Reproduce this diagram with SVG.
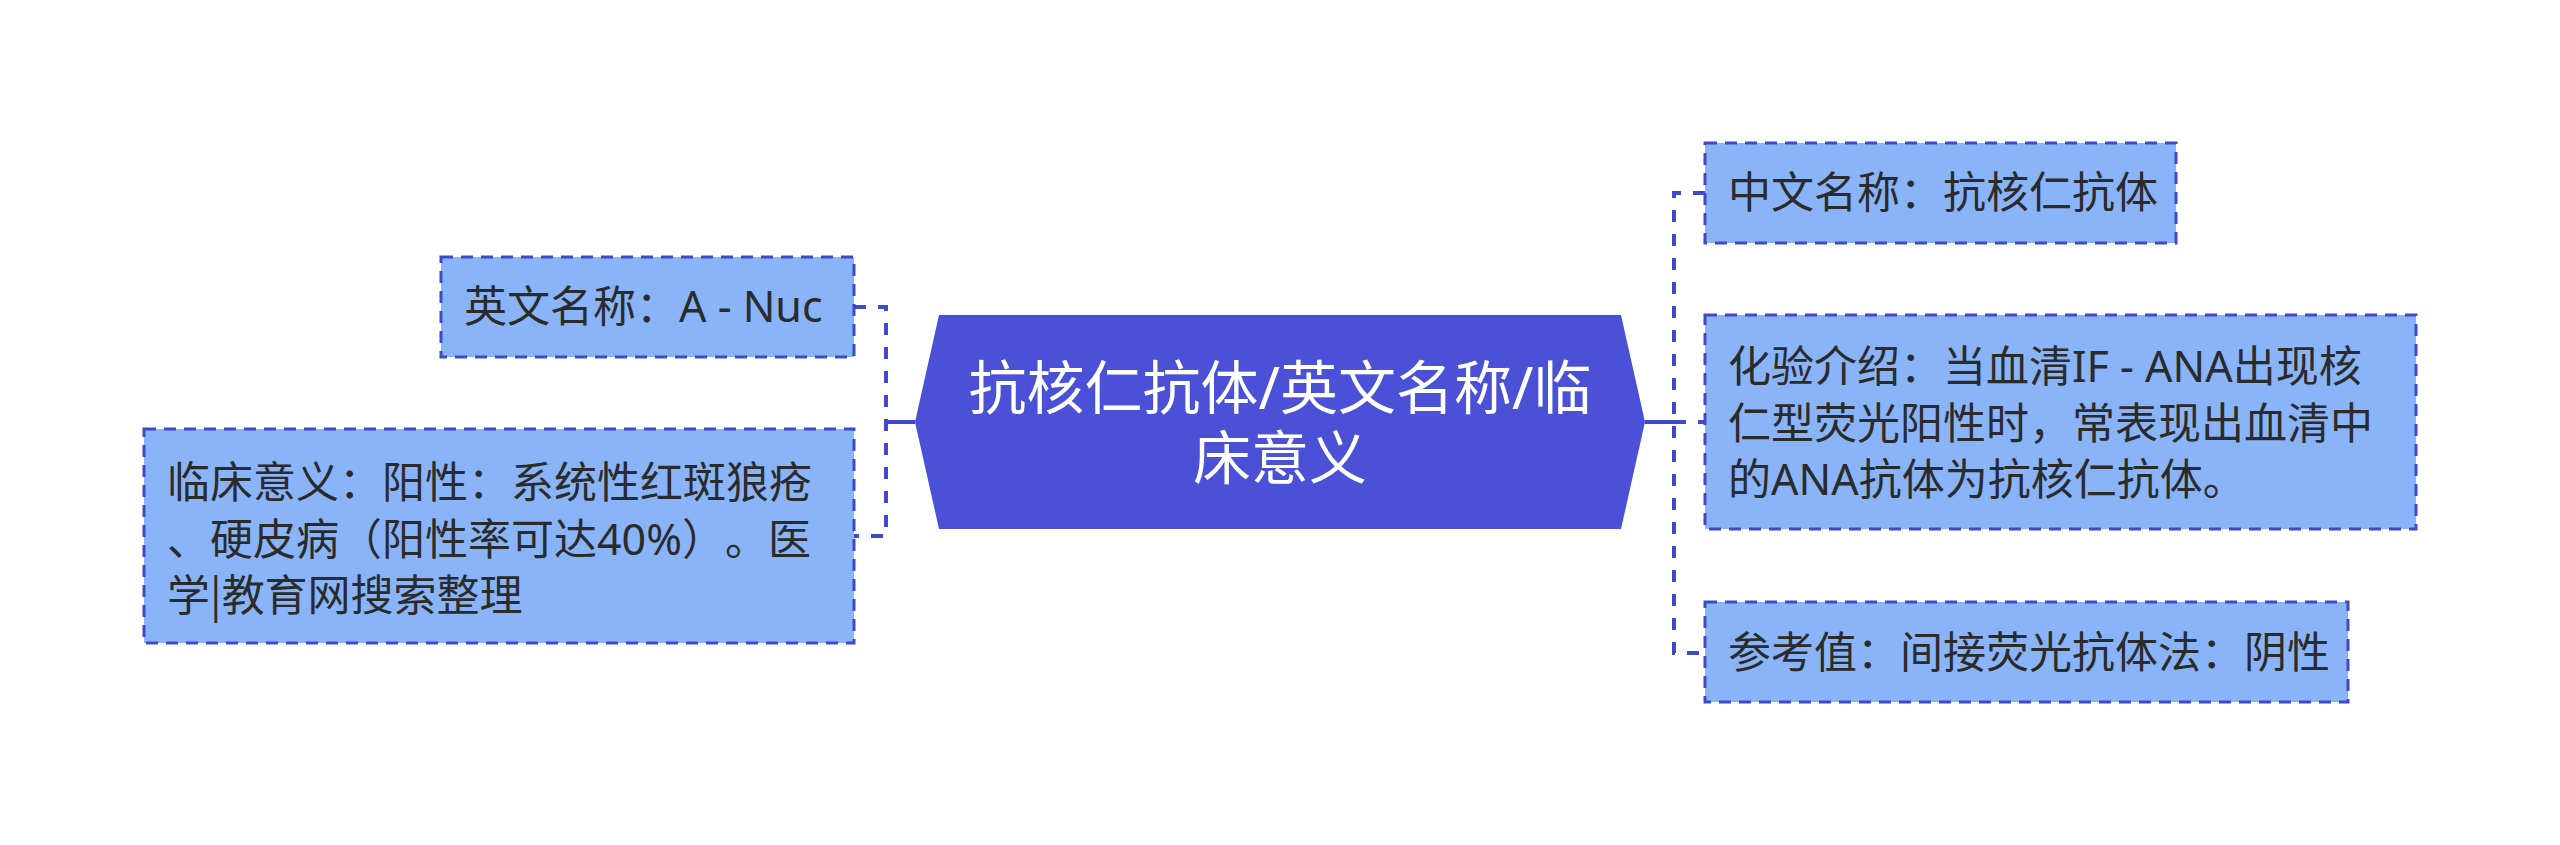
<svg xmlns="http://www.w3.org/2000/svg" width="2560" height="845" viewBox="0 0 2560 845">
<style>
text{text-spacing-trim:space-all;font-family:"Noto Sans","Noto Sans CJK SC",sans-serif}
.cjk{font-family:"Noto Sans CJK SC",sans-serif}
.node rect{fill:#8AB4F8;stroke:#3F48C8;stroke-width:3;stroke-dasharray:12 8}
.node text{font-size:43px;fill:#2B2B2B}
.root text{font-size:58px;fill:#FFFFFF;text-anchor:middle}
.dash{fill:none;stroke:#4048CC;stroke-width:4;stroke-dasharray:12 12}
.solid{fill:none;stroke:#4048CC;stroke-width:4}
</style>
<rect width="2560" height="845" fill="#FFFFFF"/>
<g id="connectors">
<path class="solid" d="M915 422 H886"/>
<path class="dash" d="M854 307 H886 V536 H854"/>
<path class="solid" d="M1645 422 H1674"/>
<path class="dash" d="M1705 193 H1674 V653 H1705"/>
<path class="dash" d="M1674 422 H1705"/>
</g>
<g id="root" class="root">
<polygon points="915,422 939,315 1621,315 1645,422 1621,529 939,529" fill="#4A51D6"/>
<text x="1280" y="409">抗核仁抗体/英文名称/临</text>
<text x="1280" y="479">床意义</text>
</g>
<g id="node-en" class="node">
<rect x="441" y="257" width="413" height="100"/>
<text x="464" y="322">英文名称：A - Nuc</text>
</g>
<g id="node-clinical" class="node">
<rect x="144" y="429" width="710" height="214"/>
<text x="167" y="498">临床意义：阳性：系统性红斑狼疮</text>
<text x="167" y="555">、硬皮病（阳性率可达40%）。医</text>
<text x="167" y="611">学<tspan class="cjk">|</tspan>教育网搜索整理</text>
</g>
<g id="node-cn" class="node">
<rect x="1705" y="143" width="471" height="100"/>
<text x="1728" y="208">中文名称：抗核仁抗体</text>
</g>
<g id="node-test" class="node">
<rect x="1705" y="315" width="711" height="214"/>
<text x="1728" y="382">化验介绍：当血清IF - ANA出现核</text>
<text x="1728" y="439">仁型荧光阳性时，常表现出血清中</text>
<text x="1728" y="495">的ANA抗体为抗核仁抗体。</text>
</g>
<g id="node-ref" class="node">
<rect x="1705" y="602" width="643" height="100"/>
<text x="1728" y="668">参考值：间接荧光抗体法：阴性</text>
</g>
</svg>
